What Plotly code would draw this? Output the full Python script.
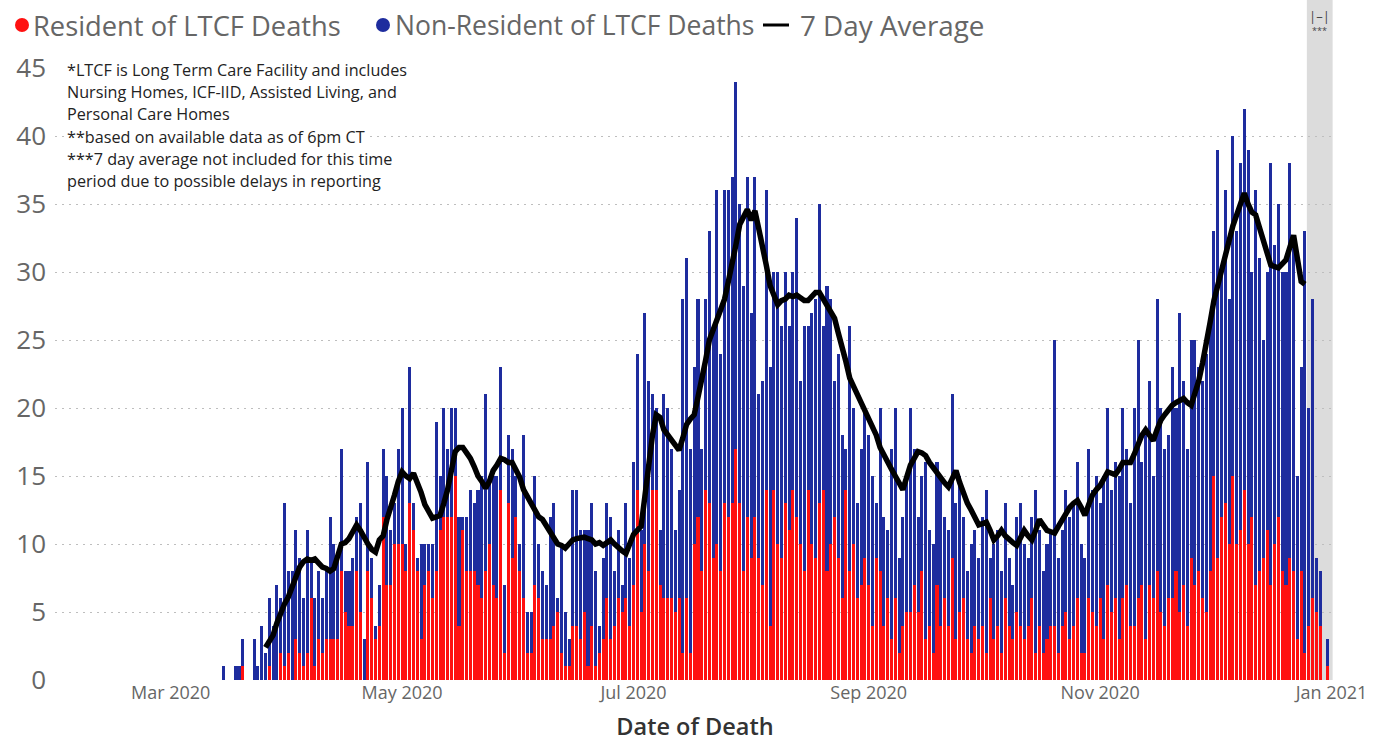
import plotly.graph_objects as go
import pandas as pd

# ---------------- data ----------------
start_date = "2020-03-15"

resident = [
    0,0,0,0,0,1,0,0,0,0,
    0,0,1,0,0,2,1,2,0,3,
    2,1,2,6,1,3,2,3,3,3,
    3,8,5,4,4,8,5,0,8,6,
    3,4,12,7,7,10,10,10,8,13,
    11,8,3,7,8,6,8,11,12,12,
    12,15,4,11,8,8,8,7,6,8,
    10,7,6,14,2,13,9,12,8,6,
    2,2,7,6,3,3,3,4,5,2,
    1,1,4,4,3,5,1,4,1,2,
    3,6,3,4,6,5,6,4,7,14,
    5,10,8,14,14,7,6,6,6,5,
    6,2,6,2,10,12,8,14,13,9,
    10,8,13,12,13,17,13,8,12,9,
    12,9,7,14,4,14,10,9,13,11,
    14,12,10,8,14,10,9,13,14,8,
    10,12,9,6,14,8,10,6,7,9,
    7,4,9,8,4,6,3,6,2,4,
    5,5,7,5,8,3,4,2,7,4,
    6,4,9,3,5,6,3,2,4,3,
    4,2,6,3,4,2,6,4,3,5,
    4,3,4,6,2,4,2,3,4,4,
    2,4,5,3,4,6,2,2,6,5,
    4,6,3,7,5,6,3,6,7,4,
    4,6,7,3,7,6,8,5,4,6,
    6,8,5,7,4,9,7,8,6,5,
    8,15,9,12,13,10,15,10,11,14,
    10,12,7,8,9,11,7,10,12,8,
    7,9,8,3,8,2,4,6,5,4,0,1,
]

non_resident = [
    1,0,0,1,1,2,0,0,3,1,
    4,2,5,4,7,4,12,6,8,8,
    7,5,9,3,5,5,4,5,9,7,
    6,9,3,4,5,4,8,3,8,3,
    1,3,5,8,4,3,7,10,2,10,
    2,1,7,3,2,4,11,4,8,5,
    8,5,8,1,4,6,5,7,9,13,
    5,8,9,9,5,5,8,3,2,12,
    3,3,8,4,5,4,9,9,1,8,
    4,2,10,10,8,6,10,9,7,2,
    6,7,9,4,5,2,7,5,9,10,
    6,17,14,7,6,4,15,14,11,6,
    8,26,25,15,13,16,9,14,20,17,
    26,16,23,24,24,27,22,21,25,18,
    25,12,15,22,19,16,20,17,17,15,
    16,22,12,18,12,17,19,22,12,21,
    18,10,15,12,3,18,10,7,10,11,
    11,11,4,12,8,5,14,14,7,8,
    10,15,10,7,7,13,7,8,9,11,
    6,7,12,10,10,6,5,8,7,6,
    8,12,3,7,7,6,7,5,4,7,
    9,7,5,6,12,7,6,7,7,21,
    7,7,9,9,9,10,8,7,11,9,
    11,7,12,13,9,10,12,14,10,9,
    16,19,9,15,15,9,20,15,13,12,
    17,12,22,15,13,16,18,15,16,19,
    18,18,30,18,23,18,25,23,27,28,
    29,18,29,23,16,19,31,22,23,22,
    23,29,24,12,15,31,16,22,4,4,0,2,
]

avg_start = "2020-03-26"
avg7 = [
    2.4,2.9,3.3,4.2,5.0,5.6,6.1,6.9,7.7,8.3,
    8.7,8.9,8.8,8.9,8.6,8.3,8.2,8.0,8.2,9.1,
    10.0,10.1,10.4,10.9,11.4,11.0,10.4,10.0,9.6,9.4,
    10.3,10.6,11.8,12.9,13.6,14.6,15.3,15.0,14.8,15.2,
    14.6,13.8,12.9,12.3,11.9,12.0,12.1,13.0,14.0,15.4,
    16.8,17.1,17.1,16.7,16.3,15.7,15.0,14.6,14.1,14.6,
    15.4,15.8,16.3,16.2,16.0,16.0,15.4,14.9,14.0,13.5,
    12.9,12.3,12.0,11.8,11.3,11.0,10.5,10.0,9.9,9.7,
    10.0,10.3,10.4,10.5,10.5,10.4,10.3,10.0,10.1,9.9,
    10.1,10.3,10.0,9.7,9.5,9.3,10.0,10.7,11.0,11.3,
    13.5,16.2,18.0,19.5,19.3,18.4,18.0,17.6,17.2,16.9,
    17.8,18.8,19.2,19.5,20.8,22.0,23.5,25.0,25.8,26.5,
    27.2,28.0,29.3,30.5,32.0,33.5,34.0,34.6,33.8,34.5,
    33.2,32.0,30.5,29.0,28.2,27.6,27.9,28.0,28.3,28.2,
    28.3,28.1,27.9,27.9,28.2,28.5,28.5,28.0,27.6,27.0,
    26.6,25.5,24.6,23.4,22.2,21.6,21.0,20.4,19.9,19.4,
    18.8,18.0,17.1,16.5,16.0,15.5,15.0,14.5,14.0,14.9,
    15.8,16.3,16.8,16.7,16.5,16.0,15.6,15.2,14.9,14.5,
    14.2,14.8,15.4,14.5,13.6,13.0,12.5,12.0,11.4,11.5,
    11.6,11.0,10.3,10.6,11.0,10.6,10.3,10.1,9.9,10.4,
    11.0,10.6,10.3,11.0,11.8,11.4,11.0,10.9,10.8,11.3,
    11.8,12.2,12.7,13.0,13.2,12.7,12.1,12.9,13.6,14.0,
    14.3,14.8,15.3,15.2,15.1,15.5,16.0,16.0,16.0,16.6,
    17.3,18.0,18.4,18.0,17.6,18.4,19.1,19.5,19.9,20.2,
    20.4,20.6,20.7,20.4,20.2,21.1,22.0,23.3,24.6,26.3,
    27.9,29.0,30.1,31.3,32.5,33.4,34.2,35.1,35.8,35.0,
    34.4,34.2,33.3,32.4,31.4,30.5,30.4,30.3,30.6,30.9,
    31.8,32.7,31.0,29.3,29.1,
]

series_names = ["Resident of LTCF Deaths", "Non-Resident of LTCF Deaths", "7 Day Average"]
note_lines = [
    "*LTCF is Long Term Care Facility and includes",
    "Nursing Homes, ICF-IID, Assisted Living, and",
    "Personal Care Homes",
    "**based on available data as of 6pm CT",
    "***7 day average not included for this time",
    "period due to possible delays in reporting",
]
band_start = "2020-12-25 12:00"
band_end = "2021-01-01 07:00"
y_ticks = [0, 5, 10, 15, 20, 25, 30, 35, 40, 45]

# ---------------- figure ----------------
RED = "#FF1010"
BLUE = "#1E2C9E"
FONT = "Open Sans"
W, H = 1379, 742
ML, MR, MT, MB = 55, 44, 68, 62
PW, PH = W - ML - MR, H - MT - MB


def px_x(px):
    return (px - ML) / PW


def px_y(py):
    return (H - MB - py) / PH


dates = pd.date_range(start_date, periods=len(resident))
avg_dates = pd.date_range(avg_start, periods=len(avg7))

fig = go.Figure()
fig.add_bar(x=dates, y=resident, marker=dict(color=RED, line=dict(width=0)),
            name=series_names[0], showlegend=False)
fig.add_bar(x=dates, y=non_resident, marker=dict(color=BLUE, line=dict(width=0)),
            name=series_names[1], showlegend=False)
fig.add_scatter(x=avg_dates, y=avg7, mode="lines", line=dict(color="black", width=5.5),
                name=series_names[2], showlegend=False)

# shaded "no 7-day average" period
fig.add_shape(type="rect", xref="x", yref="paper", x0=band_start, x1=band_end,
              y0=0, y1=1.13, fillcolor="#DCDCDC", line=dict(width=0), layer="below")
band_mid = pd.Timestamp(band_start) + (pd.Timestamp(band_end) - pd.Timestamp(band_start)) / 2
fig.add_annotation(x=band_mid, xref="x", y=px_y(16), yref="paper", text="|–|",
                   showarrow=False, xanchor="center", yanchor="middle",
                   font=dict(family=FONT, size=13, color="#444"))
fig.add_annotation(x=band_mid, xref="x", y=px_y(31), yref="paper", text="***",
                   showarrow=False, xanchor="center", yanchor="middle",
                   font=dict(family=FONT, size=9, color="#444"))

# custom legend (circle markers + line, like the original)
leg_y = px_y(25)
legend_items = [
    (series_names[0], RED, "dot", 22, 31, 27.3),
    (series_names[1], BLUE, "dot", 383, 393, 26.5),
    (series_names[2], "black", "line", 776, 798, 27.8),
]
for name, color, kind, cx, tx, fs in legend_items:
    if kind == "dot":
        fig.add_shape(type="circle", xref="paper", yref="paper",
                      x0=px_x(cx - 7), x1=px_x(cx + 7), y0=px_y(32), y1=px_y(18),
                      fillcolor=color, line=dict(width=0))
    else:
        fig.add_shape(type="line", xref="paper", yref="paper",
                      x0=px_x(cx - 13), x1=px_x(cx + 13), y0=leg_y, y1=leg_y,
                      line=dict(color=color, width=3))
    fig.add_annotation(x=px_x(tx), xref="paper", y=leg_y, yref="paper", text=name,
                       showarrow=False, xanchor="left", yanchor="middle",
                       font=dict(family=FONT, size=fs, color="#666"))

for i, line in enumerate(note_lines):
    fig.add_annotation(x=px_x(66), xref="paper", y=px_y(70 + i * 22.2), yref="paper",
                       text=line, showarrow=False, xanchor="left", yanchor="middle",
                       bgcolor="white", borderpad=0,
                       font=dict(family=FONT, size=16.2, color="#222"))

fig.update_layout(
    width=W, height=H,
    margin=dict(l=ML, r=MR, t=MT, b=MB, autoexpand=False),
    barmode="stack", bargap=0.2,
    plot_bgcolor="white", paper_bgcolor="white",
    font=dict(family=FONT, color="#666"),
    showlegend=False,
    xaxis=dict(type="date", range=["2020-01-30 12:00", "2021-01-01 22:00"],
               tick0="2020-03-01", dtick="M2", tickformat="%b %Y",
               tickfont=dict(family=FONT, size=18, color="#666"),
               showgrid=False, zeroline=False, showline=False, ticks="",
               title=dict(text="Date of Death", standoff=16,
                          font=dict(family=FONT, size=23.5, color="#333", weight=600))),
    yaxis=dict(range=[0, 45], tickvals=y_ticks,
               tickfont=dict(family=FONT, size=26, color="#666"),
               ticklabelstandoff=8,
               showgrid=True, gridcolor="#BEBEBE", griddash="2px,5px", gridwidth=1.2,
               zeroline=False, showline=False, ticks=""),
)

fig.write_html("out.html", config={"displayModeBar": False},
               post_script="document.body.style.margin='0';document.body.style.overflow='hidden';")
